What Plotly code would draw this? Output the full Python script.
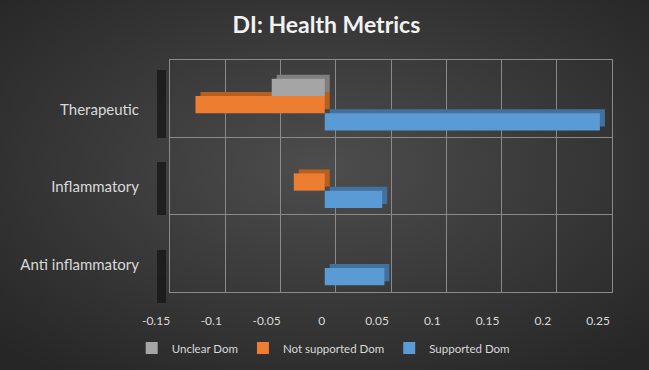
import base64
import plotly.graph_objects as go

# ---- data ----
categories = ["Anti inflammatory", "Inflammatory", "Therapeutic"]
supported = [0.054, 0.052, 0.249]
not_supported = [None, -0.028, -0.117]
unclear = [None, None, -0.048]
series_names = ["Supported Dom", "Not supported Dom", "Unclear Dom"]
x_tick_vals = [-0.15, -0.1, -0.05, 0, 0.05, 0.1, 0.15, 0.2, 0.25]
x_tick_text = ["-0.15", "-0.1", "-0.05", "0", "0.05", "0.1", "0.15", "0.2", "0.25"]

W, H = 649, 370
front_cols = ["#5b9bd5", "#ed7d31", "#a5a5a5"]
back_cols = ["#41719c", "#b5601f", "#7f7f7f"]
series_vals = [supported, not_supported, unclear]
ranks = [3, 2, 1]


def xd(a, b):
    return [a / W, b / W]


def yd(top, bottom):
    return [1 - bottom / H, 1 - top / H]


fig = go.Figure()

# back wall (grid) subplot needs a trace to be drawn: an empty, invisible one
fig.add_trace(go.Scatter(x=x_tick_vals, y=[None] * len(x_tick_vals), mode="lines",
                         xaxis="x", yaxis="y", showlegend=False, hoverinfo="skip"))

# depth faces (behind)
for name, vals, col in zip(series_names, series_vals, back_cols):
    fig.add_trace(go.Bar(y=categories, x=vals, orientation="h", name=name,
                         marker=dict(color=col, line=dict(width=0)),
                         xaxis="x2", yaxis="y2", showlegend=False, hoverinfo="skip"))

# front faces
for name, vals, col, rk in zip(series_names, series_vals, front_cols, ranks):
    fig.add_trace(go.Bar(y=categories, x=vals, orientation="h", name=name,
                         marker=dict(color=col, line=dict(width=0)),
                         xaxis="x3", yaxis="y3", legendrank=rk))

svg = f'''<svg xmlns="http://www.w3.org/2000/svg" width="{W}" height="{H}" preserveAspectRatio="none">
<defs><radialGradient id="g" cx="50%" cy="45%" r="70%">
<stop offset="0%" stop-color="#4d4d4d"/><stop offset="100%" stop-color="#262626"/>
</radialGradient></defs><rect width="100%" height="100%" fill="url(#g)"/></svg>'''
src = "data:image/svg+xml;base64," + base64.b64encode(svg.encode()).decode()

grid_col = "#8a8a8a"
txt_col = "#d9d9d9"
font_fam = "Lato, 'Open Sans', sans-serif"

shapes = []
for top, bot in [(70, 138), (162, 215), (250, 303)]:
    shapes.append(dict(type="rect", xref="paper", yref="paper",
                       x0=157 / W, x1=166 / W, y0=1 - bot / H, y1=1 - top / H,
                       fillcolor="#151515", opacity=0.75, line=dict(width=0), layer="below"))

fig.update_layout(
    template="none",
    width=W, height=H,
    margin=dict(l=0, r=0, t=0, b=0, pad=0, autoexpand=False),
    paper_bgcolor="#333333",
    plot_bgcolor="rgba(0,0,0,0)",
    images=[dict(source=src, xref="paper", yref="paper", x=0, y=1, sizex=1, sizey=1,
                 sizing="stretch", layer="below", xanchor="left", yanchor="top")],
    shapes=shapes,
    barmode="group", bargap=0.33, bargroupgap=0,
    font=dict(family=font_fam, color=txt_col),
    title=dict(text="<b>DI: Health Metrics</b>", x=0.503, xanchor="center",
               y=1 - 25 / H, yanchor="middle",
               font=dict(size=23, color="#f2f2f2", family=font_fam)),
    legend=dict(orientation="h", x=0.498, xanchor="center", y=1 - 348 / H, yanchor="middle",
                font=dict(size=11.5, color=txt_col), bgcolor="rgba(0,0,0,0)",
                itemwidth=30, traceorder="normal"),
    # back wall grid
    xaxis=dict(domain=xd(170, 612), range=[-0.15, 0.25], anchor="y", automargin=False,
               tick0=-0.15, dtick=0.05, showgrid=True, gridcolor=grid_col, gridwidth=1,
               showticklabels=False, zeroline=False, showline=True, mirror=True,
               linecolor=grid_col, linewidth=1, ticks=""),
    yaxis=dict(domain=yd(60, 292), range=[-0.5, 2.5], anchor="x", automargin=False,
               tick0=-0.5, dtick=1, showgrid=True, gridcolor=grid_col, gridwidth=1,
               showticklabels=False, zeroline=False, showline=True, mirror=True,
               linecolor=grid_col, linewidth=1, ticks=""),
    # depth faces
    xaxis2=dict(domain=xd(164, 606), range=[-0.15, 0.25], anchor="y2", visible=False,
                automargin=False),
    yaxis2=dict(domain=yd(62, 294), range=[-0.5, 2.5], type="category", automargin=False,
                categoryorder="array", categoryarray=categories, anchor="x2", visible=False),
    # front bars + tick labels
    xaxis3=dict(domain=xd(159, 601), range=[-0.15, 0.25], anchor="y3", automargin=False,
                tickvals=x_tick_vals, ticktext=x_tick_text, showgrid=False, zeroline=False,
                showline=False, ticks="", ticklabelstandoff=14, ticklabelshift=-3,
                tickfont=dict(size=12, color=txt_col)),
    yaxis3=dict(domain=yd(66, 298), range=[-0.5, 2.5], type="category", automargin=False,
                categoryorder="array", categoryarray=categories, anchor="x3",
                showgrid=False, zeroline=False, showline=False, ticks="",
                ticklabelstandoff=19, ticklabelshift=5,
                tickfont=dict(size=15, color=txt_col)),
)

fig.write_html("out.html", config={"displayModeBar": False},
               post_script="document.body.style.margin='0';")
